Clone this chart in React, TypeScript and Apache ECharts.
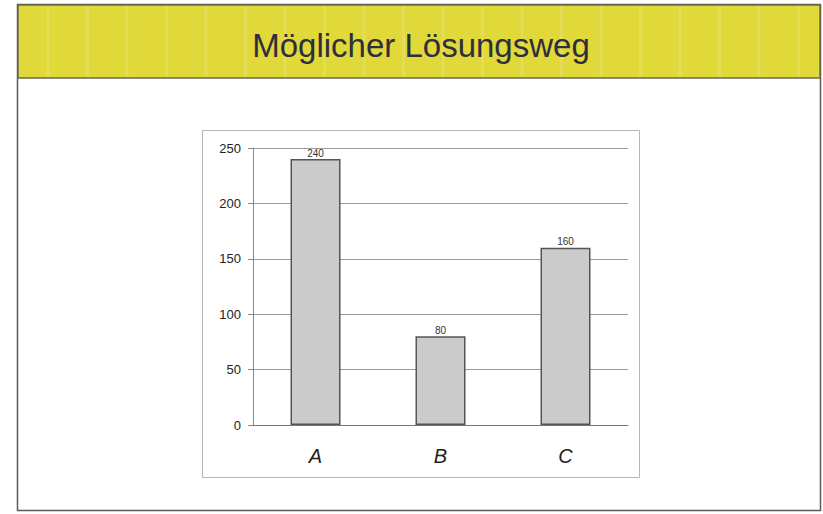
import React, { useEffect, useRef } from "react";
import * as echarts from "echarts";

const categories = ["A", "B", "C"];
const values = [240, 80, 160];
const yMin = 0;
const yMax = 250;
const yInterval = 50;
const titleText = "Möglicher Lösungsweg";

export default function App() {
  const ref = useRef<HTMLDivElement>(null);
  useEffect(() => {
    if (!ref.current) return;
    const chart = echarts.init(ref.current, null, { renderer: "svg" });
    const stripes: any[] = [];
    for (let x = 48; x < 820; x += 39.5) {
      stripes.push({
        type: "line",
        shape: { x1: x, y1: 6, x2: x, y2: 77 },
        style: { stroke: "#ffffff", opacity: 0.14, lineWidth: 3 },
        silent: true,
      });
    }
    chart.setOption({
      animation: false,
      backgroundColor: "#ffffff",
      graphic: [
        {
          type: "rect",
          shape: { x: 17.5, y: 4.5, width: 803, height: 506 },
          style: { fill: "#ffffff", stroke: "#5a5a5a", lineWidth: 1.5 },
          z: -10,
        },
        {
          type: "rect",
          shape: { x: 18, y: 5, width: 802, height: 73 },
          style: { fill: "#e1d83a", stroke: "#6a6a4a", lineWidth: 1.5 },
          z: -9,
        },
        ...stripes.map((s) => ({ ...s, z: -8 })),
        {
          type: "text",
          x: 421,
          y: 45,
          style: {
            text: titleText,
            fontSize: 33,
            fontFamily: "Liberation Sans, Arial, sans-serif",
            fill: "#2e2e3c",
            align: "center",
            verticalAlign: "middle",
          },
          z: 5,
        },
        {
          type: "rect",
          shape: { x: 202.5, y: 130.5, width: 437, height: 347 },
          style: { fill: "#ffffff", stroke: "#b5b5b5", lineWidth: 1 },
          z: -7,
        },
      ],
      grid: { left: 253, right: 195, top: 148, bottom: 89, containLabel: false },
      xAxis: {
        type: "category",
        data: categories,
        axisLine: { show: true, lineStyle: { color: "#777777", width: 1 } },
        axisTick: { show: false },
        axisLabel: {
          fontSize: 20,
          fontStyle: "italic",
          fontFamily: "Liberation Sans, Arial, sans-serif",
          color: "#222222",
          margin: 21,
        },
      },
      yAxis: {
        type: "value",
        min: yMin,
        max: yMax,
        interval: yInterval,
        axisLine: { show: true, lineStyle: { color: "#888888", width: 1 } },
        axisTick: { show: true, length: 5, lineStyle: { color: "#888888" } },
        splitLine: { show: true, lineStyle: { color: "#9a9a9a", width: 1 } },
        axisLabel: {
          fontSize: 13,
          fontFamily: "Liberation Sans, Arial, sans-serif",
          color: "#222222",
          margin: 12,
        },
      },
      series: [
        {
          type: "bar",
          data: values,
          barWidth: "40%",
          itemStyle: { color: "#cbcbcb", borderColor: "#555555", borderWidth: 1.5 },
          label: {
            show: true,
            position: "top",
            distance: 1,
            fontSize: 10,
            fontFamily: "Liberation Sans, Arial, sans-serif",
            color: "#333333",
          },
        },
      ],
    });
    return () => chart.dispose();
  }, []);
  return (
    <div
      ref={ref}
      style={{ position: "fixed", left: 0, top: 0, width: 823, height: 514 }}
    />
  );
}
